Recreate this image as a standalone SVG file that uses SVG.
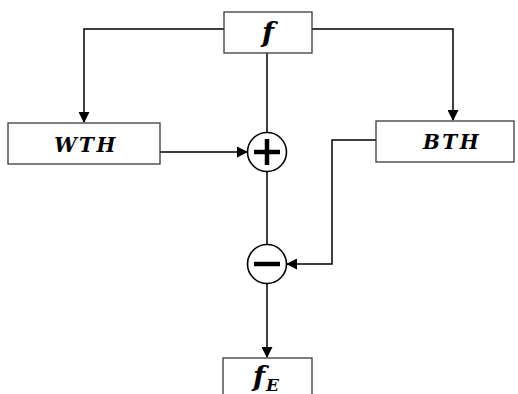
<svg xmlns="http://www.w3.org/2000/svg" width="518" height="394" viewBox="0 0 518 394">
<defs>
<marker id="ah" markerWidth="11" markerHeight="11" refX="10" refY="5.5" orient="auto" markerUnits="userSpaceOnUse">
<path d="M0,0 L11,5.5 L0,11 Z" fill="#000"/>
</marker>
<style>
.box{fill:#fff;stroke:#3a3a3a;stroke-width:1.3}
.lbl{font-family:"DejaVu Serif","Liberation Serif",serif;font-weight:bold;font-style:italic;fill:#000;text-anchor:middle}
.wire{fill:none;stroke:#000;stroke-width:1.5}
.circ{fill:#fff;stroke:#000;stroke-width:1.6}
.sym{stroke:#000;stroke-width:4.5;stroke-linecap:butt}
</style>
</defs>
<rect width="518" height="394" fill="#fff"/>
<g id="connectors">
<path class="wire" d="M224,29 H84 V122" marker-end="url(#ah)"/>
<path class="wire" d="M312,29 H453 V120" marker-end="url(#ah)"/>
<path class="wire" d="M267,53 V133"/>
<path class="wire" d="M160,152 H247" marker-end="url(#ah)"/>
<path class="wire" d="M267,172 V244"/>
<path class="wire" d="M376,140 H332 V264 H287" marker-end="url(#ah)"/>
<path class="wire" d="M267,284 V357" marker-end="url(#ah)"/>
</g>
<g id="f">
<rect class="box" x="224" y="12" width="88" height="41"/>
<text class="lbl" x="268" y="42" font-size="28">f</text>
</g>
<g id="WTH">
<rect class="box" x="8" y="123" width="152" height="41"/>
<text class="lbl" x="86" y="152" font-size="20" letter-spacing="2.5">WTH</text>
</g>
<g id="BTH">
<rect class="box" x="376" y="121" width="138" height="41"/>
<text class="lbl" x="452" y="149" font-size="20" letter-spacing="2.5">BTH</text>
</g>
<g id="plus">
<circle class="circ" cx="267" cy="152" r="19.5"/>
<line class="sym" x1="254" y1="152" x2="280" y2="152"/>
<line class="sym" x1="267" y1="139" x2="267" y2="165"/>
</g>
<g id="minus">
<circle class="circ" cx="267" cy="264" r="19.5"/>
<line class="sym" x1="254" y1="264" x2="280" y2="264"/>
</g>
<g id="fE">
<rect class="box" x="223" y="358" width="89" height="50"/>
<text class="lbl" x="253" y="386" font-size="28" style="text-anchor:start">f<tspan font-size="17" dx="1" dy="5">E</tspan></text>
</g>
</svg>
